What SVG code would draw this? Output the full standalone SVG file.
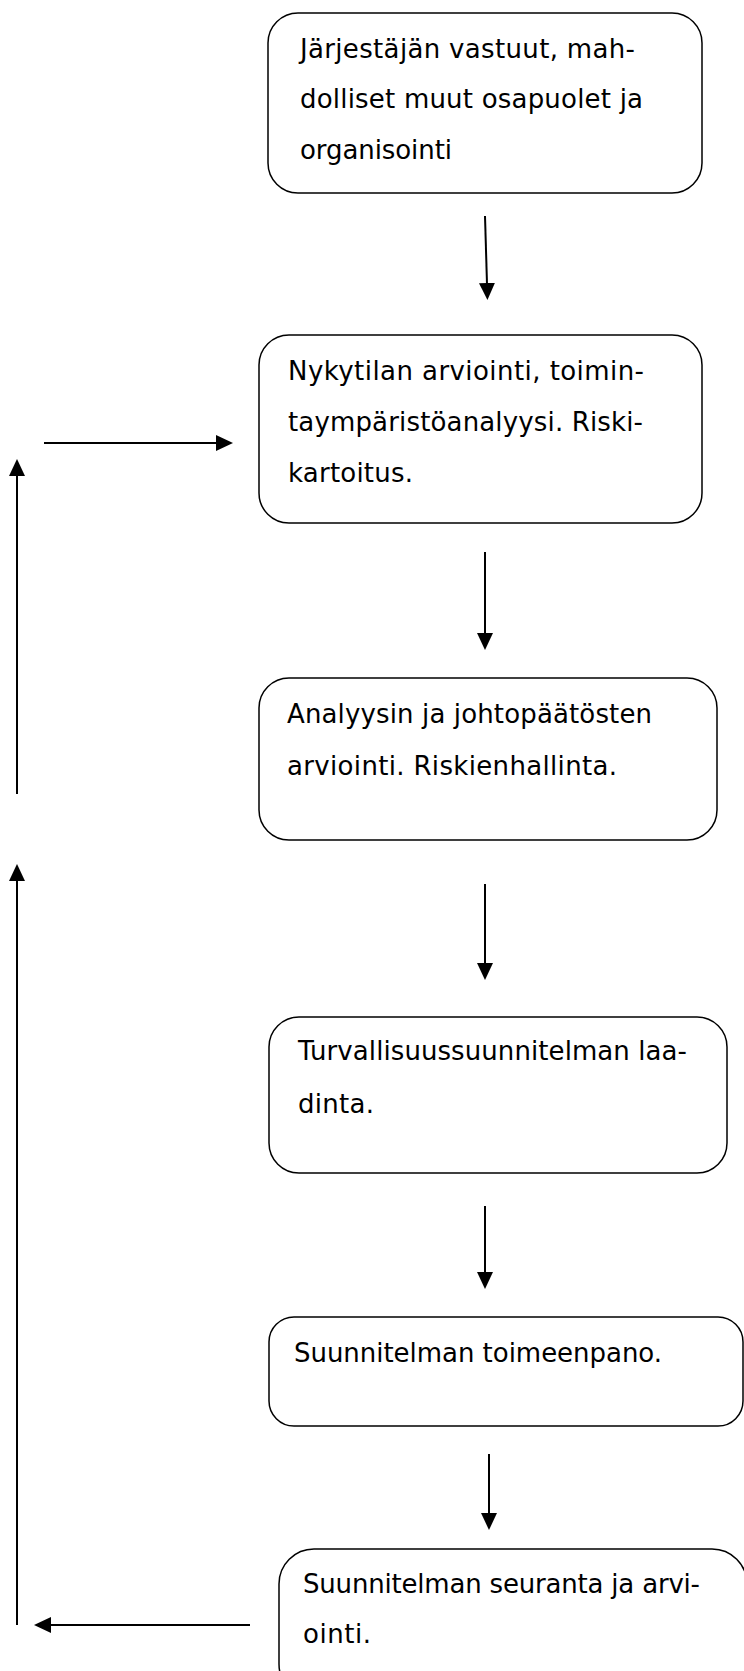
<svg xmlns="http://www.w3.org/2000/svg" width="744" height="1671" viewBox="0 0 744 1671">
<style>
.box{fill:#fff;stroke:#000;stroke-width:1.5}
.t{font-family:"DejaVu Sans","Verdana",sans-serif;font-size:26px;fill:#000}
.c{stroke:#000;stroke-width:2;fill:none;marker-end:url(#ah)}
</style>
<defs>
<marker id="ah" viewBox="0 0 17 16" refX="1" refY="8" markerWidth="17" markerHeight="16" markerUnits="userSpaceOnUse" orient="auto">
<path d="M0,0 L17,8 L0,16 z" fill="#000"/>
</marker>
</defs>
<rect width="744" height="1671" fill="#fff"/>
<g id="connectors">
<line class="c" x1="485" y1="216" x2="487" y2="284"/>
<line class="c" x1="485" y1="552" x2="485" y2="634"/>
<line class="c" x1="485" y1="884" x2="485" y2="964"/>
<line class="c" x1="485" y1="1206" x2="485" y2="1273"/>
<line class="c" x1="489" y1="1454" x2="489" y2="1514"/>
<line class="c" x1="44" y1="443" x2="217" y2="443"/>
<line class="c" x1="17" y1="794" x2="17" y2="475"/>
<line class="c" x1="17" y1="1625" x2="17" y2="880"/>
<line class="c" x1="250" y1="1625" x2="50" y2="1625"/>
</g>
<g id="n1">
<rect class="box" x="268" y="13" width="434" height="180" rx="30"/>
<text class="t" x="300" y="58" textLength="335">Järjestäjän vastuut, mah-</text>
<text class="t" x="300" y="108" textLength="343">dolliset muut osapuolet ja</text>
<text class="t" x="300" y="159" textLength="152">organisointi</text>
</g>
<g id="n2">
<rect class="box" x="259" y="335" width="443" height="188" rx="30"/>
<text class="t" x="288" y="380" textLength="356">Nykytilan arviointi, toimin-</text>
<text class="t" x="288" y="431" textLength="355">taympäristöanalyysi. Riski-</text>
<text class="t" x="288" y="482" textLength="125">kartoitus.</text>
</g>
<g id="n3">
<rect class="box" x="259" y="678" width="458" height="162" rx="30"/>
<text class="t" x="287" y="723" textLength="365">Analyysin ja johtopäätösten</text>
<text class="t" x="287" y="775" textLength="330">arviointi. Riskienhallinta.</text>
</g>
<g id="n4">
<rect class="box" x="269" y="1017" width="458" height="156" rx="30"/>
<text class="t" x="298" y="1060" textLength="389">Turvallisuussuunnitelman laa-</text>
<text class="t" x="298" y="1113" textLength="76">dinta.</text>
</g>
<g id="n5">
<rect class="box" x="269" y="1317" width="474" height="109" rx="25"/>
<text class="t" x="294" y="1362" textLength="368">Suunnitelman toimeenpano.</text>
</g>
<g id="n6">
<rect class="box" x="279" y="1549" width="468" height="150" rx="35"/>
<text class="t" x="303" y="1593" textLength="397">Suunnitelman seuranta ja arvi-</text>
<text class="t" x="303" y="1643" textLength="68">ointi.</text>
</g>
</svg>
